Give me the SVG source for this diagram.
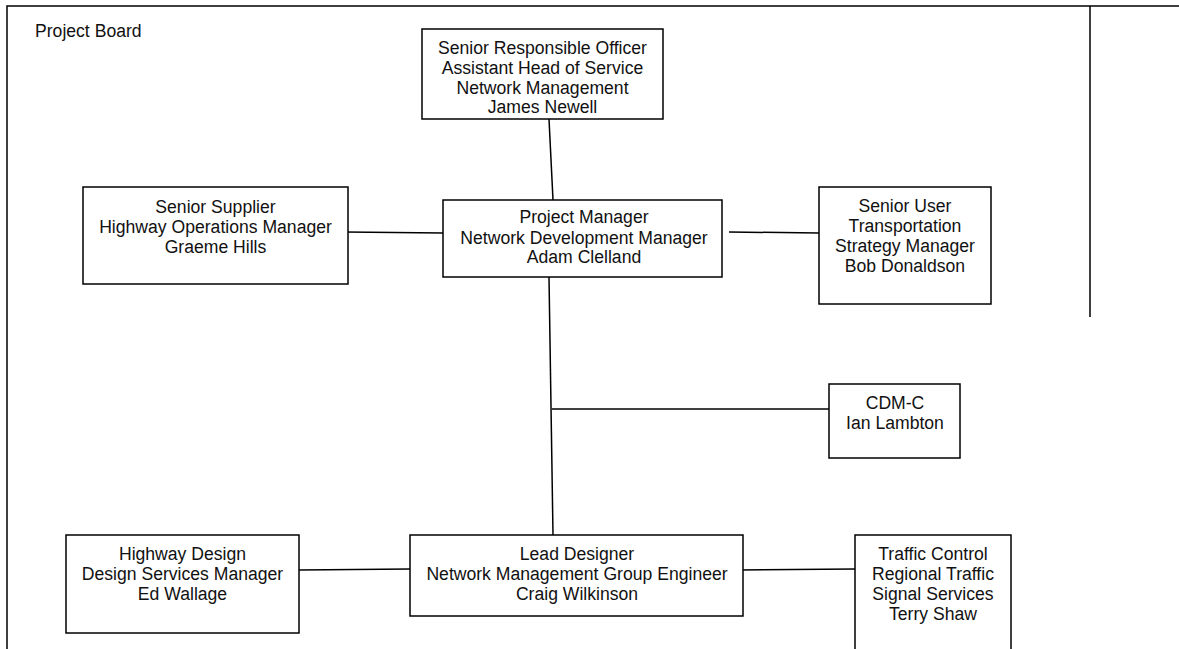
<svg xmlns="http://www.w3.org/2000/svg" width="1179" height="649" viewBox="0 0 1179 649">
<style>
.box{fill:#fff;stroke:#000;stroke-width:1.5}
.ln{fill:none;stroke:#000;stroke-width:1.5}
text{font-family:"Liberation Sans",Arial,sans-serif;font-size:17.6px;fill:#111}
.c{text-anchor:middle}
</style>
<rect width="1179" height="649" fill="#fff"/>
<g id="frame">
<path class="ln" d="M7,649 V6 H1179 M1090,6 V317"/>
<text x="35" y="37">Project Board</text>
</g>
<g id="connectors">
<line class="ln" x1="549" y1="119" x2="553" y2="200"/>
<line class="ln" x1="345" y1="232" x2="443" y2="233"/>
<line class="ln" x1="729" y1="232" x2="819" y2="233"/>
<line class="ln" x1="549" y1="277" x2="553" y2="535"/>
<line class="ln" x1="552" y1="409" x2="829" y2="409"/>
<line class="ln" x1="299" y1="570" x2="410" y2="569"/>
<line class="ln" x1="738" y1="570" x2="855" y2="569"/>
</g>
<g id="sro">
<rect class="box" x="422" y="29" width="241" height="90"/>
<text class="c" x="542.5" y="54">Senior Responsible Officer</text>
<text class="c" x="542.5" y="74">Assistant Head of Service</text>
<text class="c" x="542.5" y="94">Network Management</text>
<text class="c" x="542.5" y="113">James Newell</text>
</g>
<g id="pm">
<rect class="box" x="443" y="200" width="279" height="77"/>
<text class="c" x="584" y="223">Project Manager</text>
<text class="c" x="584" y="244">Network Development Manager</text>
<text class="c" x="584" y="263">Adam Clelland</text>
</g>
<g id="ss">
<rect class="box" x="83" y="187" width="265" height="97"/>
<text class="c" x="215.5" y="213">Senior Supplier</text>
<text class="c" x="215.5" y="233">Highway Operations Manager</text>
<text class="c" x="215.5" y="253">Graeme Hills</text>
</g>
<g id="su">
<rect class="box" x="819" y="187" width="172" height="117"/>
<text class="c" x="905" y="212">Senior User</text>
<text class="c" x="905" y="232">Transportation</text>
<text class="c" x="905" y="252">Strategy Manager</text>
<text class="c" x="905" y="272">Bob Donaldson</text>
</g>
<g id="cdm">
<rect class="box" x="829" y="384" width="131" height="74"/>
<text class="c" x="895" y="409">CDM-C</text>
<text class="c" x="895" y="429">Ian Lambton</text>
</g>
<g id="hd">
<rect class="box" x="66" y="535" width="233" height="98"/>
<text class="c" x="182.5" y="560">Highway Design</text>
<text class="c" x="182.5" y="580">Design Services Manager</text>
<text class="c" x="182.5" y="600">Ed Wallage</text>
</g>
<g id="ld">
<rect class="box" x="410" y="535" width="333" height="81"/>
<text class="c" x="577" y="560">Lead Designer</text>
<text class="c" x="577" y="580">Network Management Group Engineer</text>
<text class="c" x="577" y="600">Craig Wilkinson</text>
</g>
<g id="tc">
<rect class="box" x="855" y="535" width="156" height="130"/>
<text class="c" x="933" y="560">Traffic Control</text>
<text class="c" x="933" y="580">Regional Traffic</text>
<text class="c" x="933" y="600">Signal Services</text>
<text class="c" x="933" y="620">Terry Shaw</text>
</g>
</svg>
